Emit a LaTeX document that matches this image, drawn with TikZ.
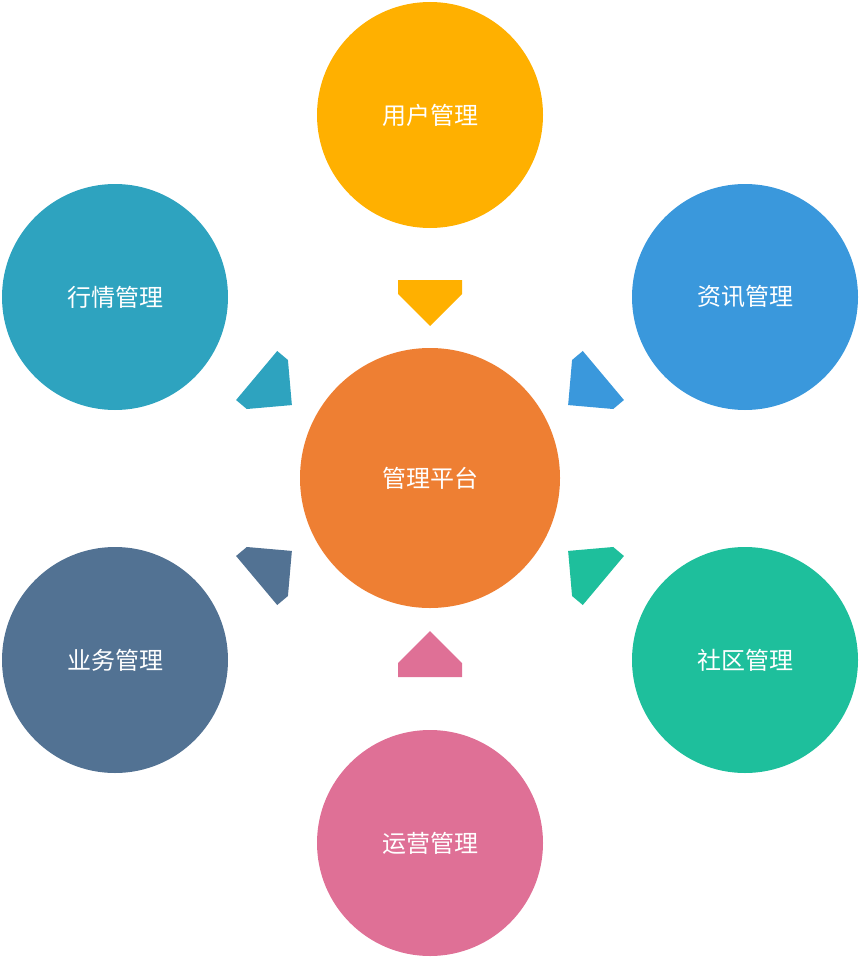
\documentclass[tikz,border=0pt]{standalone}
\usepackage{fontspec}
\newfontfamily\cjk{Noto Sans CJK SC}
\usetikzlibrary{shapes.arrows}
\definecolor{cYellow}{HTML}{FFB000}
\definecolor{cOrange}{HTML}{EE7F33}
\definecolor{cTeal}{HTML}{2EA3BF}
\definecolor{cBlue}{HTML}{3A98DC}
\definecolor{cSlate}{HTML}{527293}
\definecolor{cGreen}{HTML}{1EBF9C}
\definecolor{cPink}{HTML}{DF7096}
\tikzset{
  module/.style={circle, fill=#1, minimum size=226pt, inner sep=0pt,
    text=white, font=\cjk\fontsize{24}{24}\selectfont},
  hub/.style={module=#1, minimum size=260pt},
  pointer/.style={single arrow, fill=#1, minimum height=46pt,
    minimum width=64pt, single arrow head extend=0pt, inner sep=0pt,
    single arrow head indent=0pt, shape border uses incircle}
}
\begin{document}
\begin{tikzpicture}[x=1pt, y=-1pt]
    \useasboundingbox (0,0) rectangle (862,960);
    \node[hub=cOrange] (core) at (430,478) {管理平台};
    \node[module=cYellow] (user) at (430,115) {用户管理};
    \node[module=cTeal] (market) at (115,297) {行情管理};
    \node[module=cBlue] (news) at (745,297) {资讯管理};
    \node[module=cSlate] (biz) at (115,660) {业务管理};
    \node[module=cGreen] (comm) at (745,660) {社区管理};
    \node[module=cPink] (ops) at (430,843) {运营管理};

    \node[pointer=cYellow, rotate=-90] (aUser) at (430,287) {};
    \node[pointer=cPink, rotate=90] (aOps) at (430,670) {};
    \node[pointer=cTeal, rotate=-40] (aMarket) at (262,380) {};
    \node[pointer=cBlue, rotate=-140] (aNews) at (598,380) {};
    \node[pointer=cSlate, rotate=40] (aBiz) at (262,576) {};
    \node[pointer=cGreen, rotate=140] (aComm) at (598,576) {};
\end{tikzpicture}
\end{document}
